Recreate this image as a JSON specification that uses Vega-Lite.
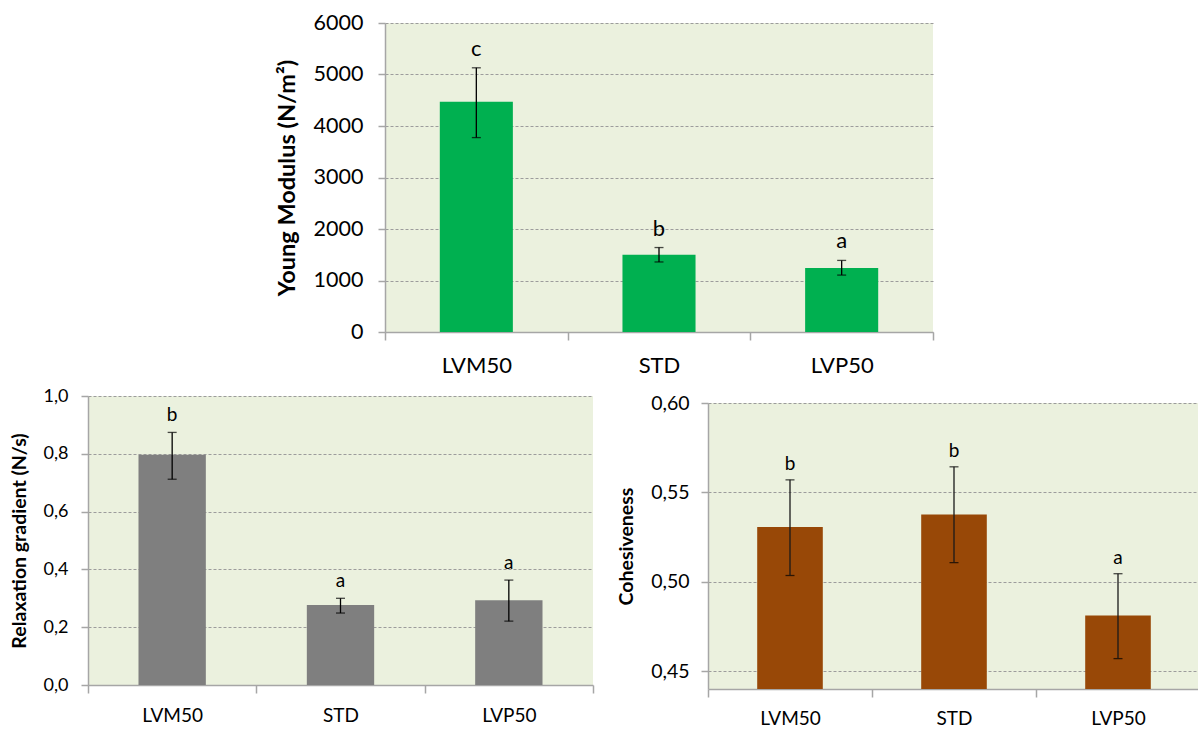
{
  "$schema": "https://vega.github.io/schema/vega-lite/v6.json",
  "background": "white",
  "padding": {"left": 9, "top": 12, "right": 0, "bottom": 0},
  "datasets": {
    "young": [
      {"sample": "LVM50", "mean": 4470, "lo": 3775, "hi": 5130, "letter": "c"},
      {"sample": "STD", "mean": 1500, "lo": 1360, "hi": 1640, "letter": "b"},
      {"sample": "LVP50", "mean": 1245, "lo": 1105, "hi": 1390, "letter": "a"}
    ],
    "relax": [
      {"sample": "LVM50", "mean": 0.797, "lo": 0.712, "hi": 0.874, "letter": "b"},
      {"sample": "STD", "mean": 0.277, "lo": 0.249, "hi": 0.300, "letter": "a"},
      {"sample": "LVP50", "mean": 0.293, "lo": 0.221, "hi": 0.363, "letter": "a"}
    ],
    "cohes": [
      {"sample": "LVM50", "mean": 0.5306, "lo": 0.5035, "hi": 0.557, "letter": "b"},
      {"sample": "STD", "mean": 0.5376, "lo": 0.5107, "hi": 0.5643, "letter": "b"},
      {"sample": "LVP50", "mean": 0.4811, "lo": 0.457, "hi": 0.5045, "letter": "a"}
    ]
  },
  "config": {
    "view": {"stroke": null, "fill": "#EBF1DE"},
    "font": "Lato",
    "axis": {
      "domainColor": "#A6A6A6",
      "domainWidth": 1.5,
      "tickColor": "#A6A6A6",
      "tickWidth": 1.5,
      "labelColor": "#000000",
      "titleColor": "#000000",
      "labelFont": "Lato",
      "titleFont": "Lato",
      "titleFontWeight": "bold"
    },
    "axisX": {"grid": false, "labelAngle": 0, "tickBand": "extent", "tickSize": 8, "title": null},
    "axisY": {"grid": true, "gridDash": [3, 2], "gridColor": "#9C9C9C", "gridWidth": 1, "tickSize": 7, "titlePadding": 14}
  },
  "vconcat": [
    {
      "hconcat": [
        {
          "width": 177,
          "height": 1,
          "view": {"fill": null, "stroke": null},
          "data": {"values": []},
          "mark": "point",
          "encoding": {}
        },
        {
          "width": 548,
          "height": 309,
          "data": {"name": "young"},
          "encoding": {
            "x": {"field": "sample", "type": "nominal", "sort": null,
                  "scale": {"paddingInner": 0, "paddingOuter": 0},
                  "axis": {"labelFontSize": 22, "labelPadding": 15}}
          },
          "layer": [
            {
              "mark": {"type": "bar", "color": "#00B050", "width": {"band": 0.4}},
              "encoding": {
                "y": {"field": "mean", "type": "quantitative", "title": "Young Modulus (N/m²)",
                      "scale": {"domain": [0, 6000]},
                      "axis": {"values": [0, 1000, 2000, 3000, 4000, 5000, 6000], "format": "d", "labelFontSize": 21.5, "labelPadding": 15, "titleFontSize": 23.5}}
              }
            },
            {
              "mark": {"type": "errorbar", "ticks": {"size": 9, "color": "#000000", "thickness": 1.3}, "rule": {"color": "#000000", "strokeWidth": 1.3}},
              "encoding": {
                "y": {"field": "lo", "type": "quantitative", "title": "Young Modulus (N/m²)"},
                "y2": {"field": "hi"}
              }
            },
            {
              "mark": {"type": "text", "fontSize": 22, "baseline": "middle", "dy": -19, "color": "#000000"},
              "encoding": {
                "y": {"field": "hi", "type": "quantitative", "title": "Young Modulus (N/m²)"},
                "text": {"field": "letter"}
              }
            }
          ]
        }
      ],
      "spacing": 10
    },
    {
      "hconcat": [
        {
          "width": 505,
          "height": 289,
          "data": {"name": "relax"},
          "encoding": {
            "x": {"field": "sample", "type": "nominal", "sort": null,
                  "scale": {"paddingInner": 0, "paddingOuter": 0},
                  "axis": {"labelFontSize": 19, "labelPadding": 13}}
          },
          "layer": [
            {
              "mark": {"type": "bar", "color": "#7F7F7F", "width": {"band": 0.4}},
              "encoding": {
                "y": {"field": "mean", "type": "quantitative", "title": "Relaxation gradient (N/s)",
                      "scale": {"domain": [0, 1]},
                      "axis": {"values": [0, 0.2, 0.4, 0.6, 0.8, 1.0], "labelExpr": "replace(format(datum.value, '.1f'), '.', ',')", "labelFontSize": 18, "labelPadding": 13, "titleFontSize": 19.5}}
              }
            },
            {
              "mark": {"type": "errorbar", "ticks": {"size": 9, "color": "#000000", "thickness": 1.3}, "rule": {"color": "#000000", "strokeWidth": 1.3}},
              "encoding": {
                "y": {"field": "lo", "type": "quantitative", "title": "Relaxation gradient (N/s)"},
                "y2": {"field": "hi"}
              }
            },
            {
              "mark": {"type": "text", "fontSize": 19, "baseline": "middle", "dy": -17, "color": "#000000"},
              "encoding": {
                "y": {"field": "hi", "type": "quantitative", "title": "Relaxation gradient (N/s)"},
                "text": {"field": "letter"}
              }
            }
          ]
        },
        {
          "vconcat": [
            {
              "width": 1,
              "height": 1,
              "view": {"fill": null, "stroke": null},
              "data": {"values": []},
              "mark": "point",
              "encoding": {}
            },
            {
              "width": 492,
              "height": 286,
              "data": {"name": "cohes"},
              "encoding": {
                "x": {"field": "sample", "type": "nominal", "sort": null,
                      "scale": {"paddingInner": 0, "paddingOuter": 0},
                      "axis": {"labelFontSize": 19, "labelPadding": 12}}
              },
              "layer": [
                {
                  "mark": {"type": "bar", "color": "#984807", "width": {"band": 0.4}, "clip": true},
                  "encoding": {
                    "y": {"field": "mean", "type": "quantitative", "title": "Cohesiveness",
                          "scale": {"domain": [0.45, 0.6], "zero": false},
                          "axis": {"values": [0.45, 0.5, 0.55, 0.6], "labelExpr": "replace(format(datum.value, '.2f'), '.', ',')", "labelFontSize": 19.5, "labelPadding": 12, "titleFontSize": 19.5}}
                  }
                },
                {
                  "mark": {"type": "errorbar", "ticks": {"size": 9, "color": "#000000", "thickness": 1.3}, "rule": {"color": "#1A1A1A", "strokeWidth": 1.3}},
                  "encoding": {
                    "y": {"field": "lo", "type": "quantitative", "title": "Cohesiveness"},
                    "y2": {"field": "hi"}
                  }
                },
                {
                  "mark": {"type": "text", "fontSize": 19, "baseline": "middle", "dy": -16, "color": "#000000"},
                  "encoding": {
                    "y": {"field": "hi", "type": "quantitative", "title": "Cohesiveness"},
                    "text": {"field": "letter"}
                  }
                }
              ]
            }
          ],
          "spacing": -4
        }
      ],
      "spacing": 22
    }
  ],
  "spacing": 11
}
